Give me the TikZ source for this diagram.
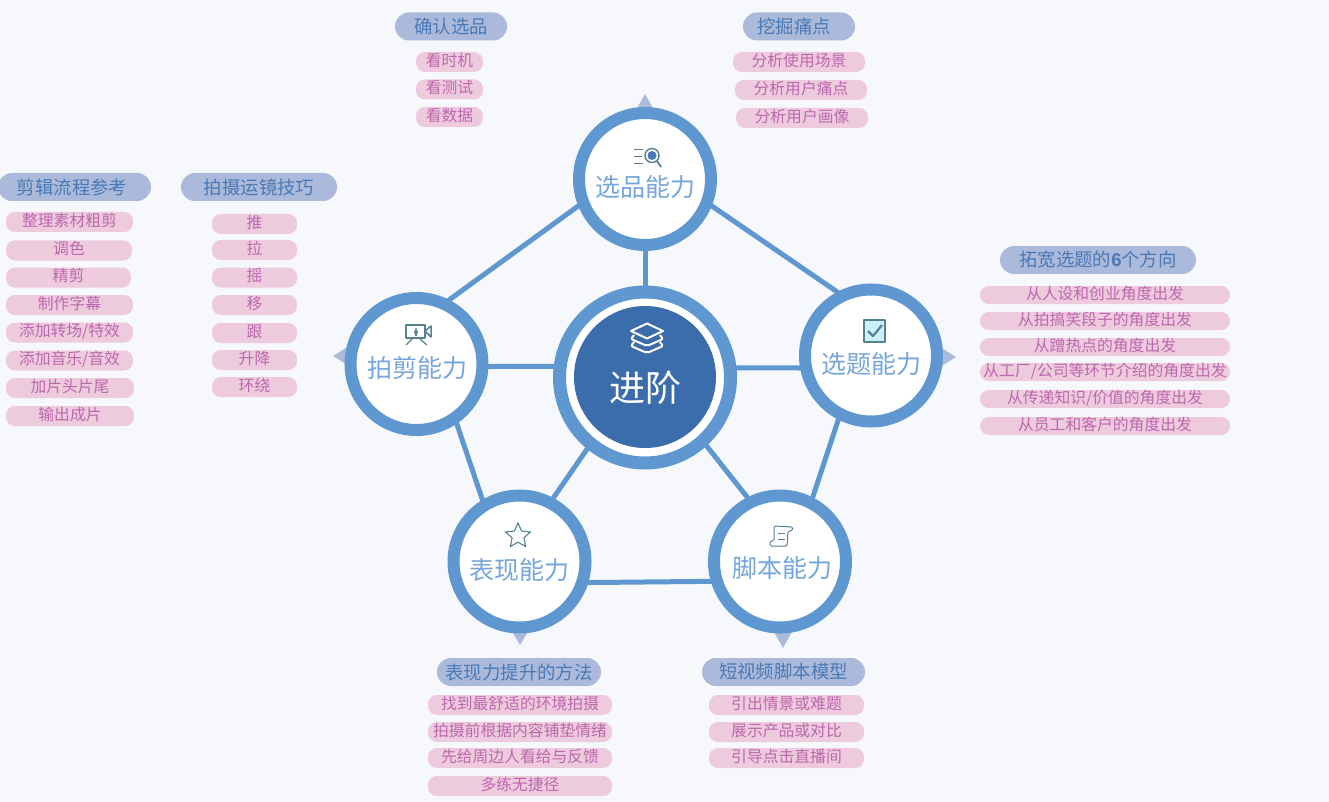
\documentclass[tikz,border=0pt]{standalone}
\usepackage{fontspec}
\setmainfont{Noto Sans CJK SC}
\newfontfamily\numfont{Liberation Sans}
\usetikzlibrary{shapes.geometric}
\definecolor{pagebg}{HTML}{F6F8FC}
\definecolor{ringblue}{HTML}{5F98D0}
\definecolor{hubblue}{HTML}{3B6CAB}
\definecolor{tipblue}{HTML}{ADBBDB}
\definecolor{headfill}{HTML}{ABBADA}
\definecolor{headtext}{HTML}{4A79B6}
\definecolor{itemfill}{HTML}{EECADD}
\definecolor{itemtext}{HTML}{BC68AE}
\definecolor{abilitytext}{HTML}{74A6DC}
\definecolor{iconline}{HTML}{54828F}
\begin{document}
\begin{tikzpicture}[x=1pt, y=-1pt,
  ability/.style={draw=ringblue, circle, fill=white, line width=12pt, minimum size=132pt, inner sep=0pt},
  abilityname/.style={text=abilitytext, font=\fontsize{25pt}{25pt}\selectfont, inner sep=0pt},
  link/.style={draw=ringblue, line width=5pt, shorten <=-2pt, shorten >=-2pt},
  head/.style={fill=headfill, text=headtext, rounded corners=13.9pt, minimum height=28pt, inner sep=0pt, font=\fontsize{18.4pt}{18.4pt}\selectfont},
  item/.style={fill=itemfill, text=itemtext, rounded corners=8.9pt, minimum height=20pt, inner sep=0pt, text height=11.5pt, text depth=3pt, font=\fontsize{15.8pt}{15.8pt}\selectfont},
  icon/.style={draw=iconline, line width=1.2pt, line join=round},
  tip/.style={fill=tipblue}]
\fill[pagebg] (0,0) rectangle (1329,802);
\useasboundingbox (0,0) rectangle (1329,802);
\fill[tip] (636,110) -- (645,94) -- (654,110) -- cycle;
\fill[tip] (940,347) -- (956,357) -- (940,367) -- cycle;
\fill[tip] (349,346) -- (333,356) -- (349,366) -- cycle;
\fill[tip] (511,630) -- (520,645) -- (529,630) -- cycle;
\fill[tip] (773,630) -- (783,648) -- (793,630) -- cycle;
\node[draw=ringblue, circle, fill=white, line width=13pt, minimum size=171pt, inner sep=0pt] (C0) at (645,377.5) {};
\node[circle, fill=hubblue, minimum size=142pt, inner sep=0pt] (C1) at (645,377) {};
\node[text=white, font=\fontsize{36pt}{36pt}\selectfont, inner sep=0pt] (C2) at (645,388) {进阶};
\node[ability] (A1) at (645,179) {};
\node[ability] (A2) at (871,355.5) {};
\node[ability] (A3) at (780,561.5) {};
\node[ability] (A4) at (519.5,561.5) {};
\node[ability] (A5) at (416.5,364) {};
\node[abilityname] (A1T) at (645,187) {选品能力};
\node[abilityname] (A2T) at (871,364) {选题能力};
\node[abilityname] (A3T) at (782,568) {脚本能力};
\node[abilityname] (A4T) at (519,570) {表现能力};
\node[abilityname] (A5T) at (417,368) {拍剪能力};
\draw[link] (A1.south) -- (C0.north);
\draw[link] (C0.6) -- (A2.190);
\draw[link] (C0.173) -- (A5.-2);
\draw[link] (C0.231) -- (A4.62);
\draw[link] (C0.312) -- (A3.117);
\draw[link] (A1.-22) -- (A2.118);
\draw[link] (A1.202) -- (A5.63);
\draw[link] (A5.304) -- (A4.121);
\draw[link] (A2.243) -- (A3.63);
\draw[link] (A4.-17) -- (A3.196);
\draw[white, line width=2pt, line join=round] (631,331) -- (647,323.5) -- (663,331) -- (647,338.5) -- cycle;
\draw[white, line width=2pt, line join=round, rounded corners=2pt] (634,335) -- (631,339) -- (647,346) -- (663,339) -- (660,335);
\draw[white, line width=2pt, line join=round, rounded corners=2pt] (634,342) -- (631,346) -- (647,353) -- (663,346) -- (660,342);
\draw[icon, line width=1.6pt] (634,149.5) -- (643,149.5);
\draw[icon, line width=1.6pt] (634,156.5) -- (642,156.5);
\draw[icon, line width=1.6pt] (634,163.5) -- (643,163.5);
\draw[icon, line width=1.4pt] (652,155.5) circle (7pt);
\fill[headtext] (652,155.5) circle (4.5pt);
\draw[icon, line width=1.8pt] (657,161) -- (661,167);
\draw[icon, fill=white!80!cyan, line width=1.6pt] (864,320) rectangle (885,342);
\draw[icon, line width=2.2pt] (868,331) -- (873,336) -- (882,325);
\draw[icon, line width=1.5pt] (406,325) rectangle (425,338);
\draw[icon, line width=1.5pt] (425,331) -- (431,326) -- (431,337) -- cycle;
\draw[icon] (412,339) -- (406,345);
\draw[icon] (420,339) -- (427,345);
\draw[icon, -latex] (416,336) -- (416,327);
\node[star, star points=5, star point ratio=2.1, draw=iconline, line width=1.1pt, fill=white, minimum size=26pt, inner sep=0pt] (I4) at (518,536) {};
\draw[icon, line width=1pt, rounded corners=1.5pt] (774,526) -- (793,527) -- (792,531) -- (788,531) -- (787,546) -- (770,546) -- (770,541) -- (774,541) -- cycle;
\draw[icon, line width=1pt] (778,533) -- (785,533);
\draw[icon, line width=1pt] (778,539) -- (785,539);
\node[head, minimum width=112pt] (G1N0) at (451,26.5) {确认选品};
\node[item, minimum width=67pt] (G1N1) at (449.5,62) {看时机};
\node[item, minimum width=67pt] (G1N2) at (449.5,89.5) {看测试};
\node[item, minimum width=67pt] (G1N3) at (449.5,117) {看数据};
\node[head, minimum width=112pt] (G2N0) at (799,26.5) {挖掘痛点\hspace*{10pt}};
\node[item, minimum width=132pt] (G2N1) at (799,62) {分析使用场景};
\node[item, minimum width=132pt] (G2N2) at (801,90) {分析用户痛点};
\node[item, minimum width=132pt] (G2N3) at (802,118) {分析用户画像};
\node[head, minimum width=196pt] (G3N0) at (1098,260) {拓宽选题的{\numfont\bfseries 6}个方向};
\node[item, minimum width=250pt, minimum height=18pt] (G3N1) at (1105,295) {从人设和创业角度出发};
\node[item, minimum width=250pt, minimum height=18pt] (G3N2) at (1105,321) {从拍搞笑段子的角度出发};
\node[item, minimum width=250pt, minimum height=18pt] (G3N3) at (1105,347) {从蹭热点的角度出发};
\node[item, minimum width=250pt, minimum height=18pt] (G3N4) at (1105,372) {从工厂/公司等环节介绍的角度出发};
\node[item, minimum width=250pt, minimum height=18pt] (G3N5) at (1105,399) {从传递知识/价值的角度出发};
\node[item, minimum width=250pt, minimum height=18pt] (G3N6) at (1105,426) {从员工和客户的角度出发};
\node[head, minimum width=164pt] (G4N0) at (519,672) {表现力提升的方法};
\node[item, minimum width=184pt] (G4N1) at (520,705) {找到最舒适的环境拍摄};
\node[item, minimum width=184pt] (G4N2) at (520,732) {拍摄前根据内容铺垫情绪};
\node[item, minimum width=184pt] (G4N3) at (520,758) {先给周边人看给与反馈};
\node[item, minimum width=184pt] (G4N4) at (520,786) {多练无捷径};
\node[head, minimum width=163pt] (G5N0) at (783.5,672) {短视频脚本模型};
\node[item, minimum width=155pt] (G5N1) at (786.5,705) {引出情景或难题};
\node[item, minimum width=155pt] (G5N2) at (786.5,732) {展示产品或对比};
\node[item, minimum width=155pt] (G5N3) at (786.5,758) {引导点击直播间};
\node[head, minimum width=156pt] (G6N0) at (259,187) {拍摄运镜技巧};
\node[item, minimum width=85pt] (G6N1) at (254.5,224) {推};
\node[item, minimum width=85pt] (G6N2) at (254.5,250) {拉};
\node[item, minimum width=85pt] (G6N3) at (254.5,277.5) {摇};
\node[item, minimum width=85pt] (G6N4) at (254.5,305) {移};
\node[item, minimum width=85pt] (G6N5) at (254.5,333) {跟};
\node[item, minimum width=85pt] (G6N6) at (254.5,360) {升降};
\node[item, minimum width=85pt] (G6N7) at (254.5,387) {环绕};
\node[head, minimum width=153pt] (G7N0) at (74.5,187) {剪辑流程参考\hspace*{5pt}};
\node[item, minimum width=127pt] (G7N1) at (69.5,222) {整理素材粗剪};
\node[item, minimum width=126pt] (G7N2) at (69,250.5) {调色};
\node[item, minimum width=125pt] (G7N3) at (68.5,277.5) {精剪};
\node[item, minimum width=127pt] (G7N4) at (69.5,305) {制作字幕};
\node[item, minimum width=127pt] (G7N5) at (69.5,332.5) {添加转场/特效};
\node[item, minimum width=127pt] (G7N6) at (69.5,360.5) {添加音乐/音效};
\node[item, minimum width=128pt] (G7N7) at (70,388) {加片头片尾};
\node[item, minimum width=128pt] (G7N8) at (70,416) {输出成片};
\end{tikzpicture}
\end{document}
